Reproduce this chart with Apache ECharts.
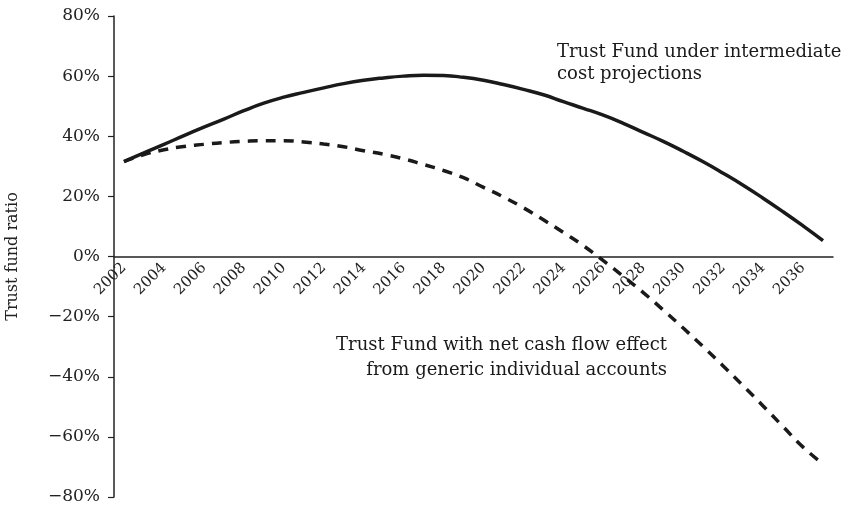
<!DOCTYPE html>
<html>
<head>
<meta charset="utf-8">
<title>Trust fund ratio</title>
<script src="https://cdn.jsdelivr.net/npm/echarts@6/dist/echarts.min.js"></script>
<style>
  html, body { margin: 0; padding: 0; background: #fff; }
  #chart { width: 849px; height: 506px; }
</style>
</head>
<body>
<div id="chart"></div>
<script>
// years on the x axis
const years = [];
for (let y = 2002; y <= 2037; y++) years.push(String(y));

// Trust Fund under intermediate cost projections (%)
const intermediate = [
  31.6, 34.5, 37.3, 40.2, 43.0, 45.7, 48.5, 51.0, 53.0, 54.6,
  56.1, 57.5, 58.6, 59.4, 60.0, 60.3, 60.2, 59.6, 58.6, 57.2,
  55.6, 53.8, 51.5, 49.3, 47.0, 44.3, 41.3, 38.3, 35.0, 31.5,
  27.7, 23.7, 19.4, 14.9, 10.2, 5.3
];

// Trust Fund with net cash flow effect from generic individual accounts (%)
const withAccounts = [
  31.6, 33.9, 35.5, 36.6, 37.3, 37.9, 38.3, 38.5, 38.5, 38.1,
  37.4, 36.5, 35.2, 34.0, 32.5, 30.6, 28.6, 26.2, 23.0, 19.8,
  16.2, 12.2, 8.0, 3.6, -1.4, -6.6, -12.0, -17.8, -23.8, -30.0,
  -36.4, -43.0, -49.7, -56.6, -63.4, -69.0
];

// y axis ticks
const yTicks = { min: -80, max: 80, step: 20 };

const serif = "DejaVu Serif";
const ink = "#1a1a1a";

const chart = echarts.init(document.getElementById("chart"), null, { renderer: "canvas" });

// plot box
const gridTop = 16, gridBottom = 9;
const plotHeight = 506 - gridTop - gridBottom;

chart.setOption({
  animation: false,
  grid: { left: 114, right: 16, top: gridTop, bottom: gridBottom, containLabel: false, outerBoundsMode: "none" },
  xAxis: {
    type: "category",
    data: years,
    boundaryGap: true,
    // axis (line + labels) lifted from the bottom edge to the 0% level
    axisLine: { onZero: false, lineStyle: { color: "#222", width: 1.5 } },
    offset: -plotHeight * (0 - yTicks.min) / (yTicks.max - yTicks.min),
    axisTick: { show: false },
    axisLabel: {
      interval: 1,
      rotate: 45,
      margin: 9,
      fontFamily: serif,
      fontSize: 15,
      color: "#222"
    },
    splitLine: { show: false }
  },
  yAxis: {
    type: "value",
    min: yTicks.min,
    max: yTicks.max,
    interval: yTicks.step,
    name: "Trust fund ratio",
    nameLocation: "middle",
    nameRotate: 90,
    nameGap: 93,
    nameTextStyle: { fontFamily: serif, fontSize: 16, color: "#222" },
    axisLine: { show: true, lineStyle: { color: "#222", width: 1.5 } },
    axisTick: { show: true, length: 6, lineStyle: { color: "#222", width: 1.2 } },
    axisLabel: {
      margin: 14,
      fontFamily: serif,
      fontSize: 17,
      color: "#222",
      // real minus sign for negatives
      formatter: v => (v < 0 ? "\u2212" + (-v) : v) + "%"
    },
    splitLine: { show: false }
  },
  series: [
    {
      name: "Trust Fund under intermediate cost projections",
      type: "line",
      data: intermediate,
      smooth: true,
      symbol: "none",
      lineStyle: { color: ink, width: 3.5, cap: "butt" }
    },
    {
      name: "Trust Fund with net cash flow effect from generic individual accounts",
      type: "line",
      data: withAccounts,
      smooth: true,
      symbol: "none",
      lineStyle: { color: ink, width: 3.5, type: [10, 8], cap: "butt" }
    }
  ],
  // the two curve captions
  graphic: [
    {
      type: "text",
      left: 557,
      top: 41,
      style: {
        text: "Trust Fund under intermediate\ncost projections",
        font: "18px 'DejaVu Serif'",
        lineHeight: 22,
        fill: ink,
        textAlign: "left"
      }
    },
    {
      type: "text",
      right: 849 - 667,
      top: 333,
      style: {
        text: "Trust Fund with net cash flow effect\nfrom generic individual accounts",
        font: "18px 'DejaVu Serif'",
        lineHeight: 25,
        fill: ink,
        align: "right",
        textAlign: "right"
      }
    }
  ]
});
</script>
</body>
</html>
